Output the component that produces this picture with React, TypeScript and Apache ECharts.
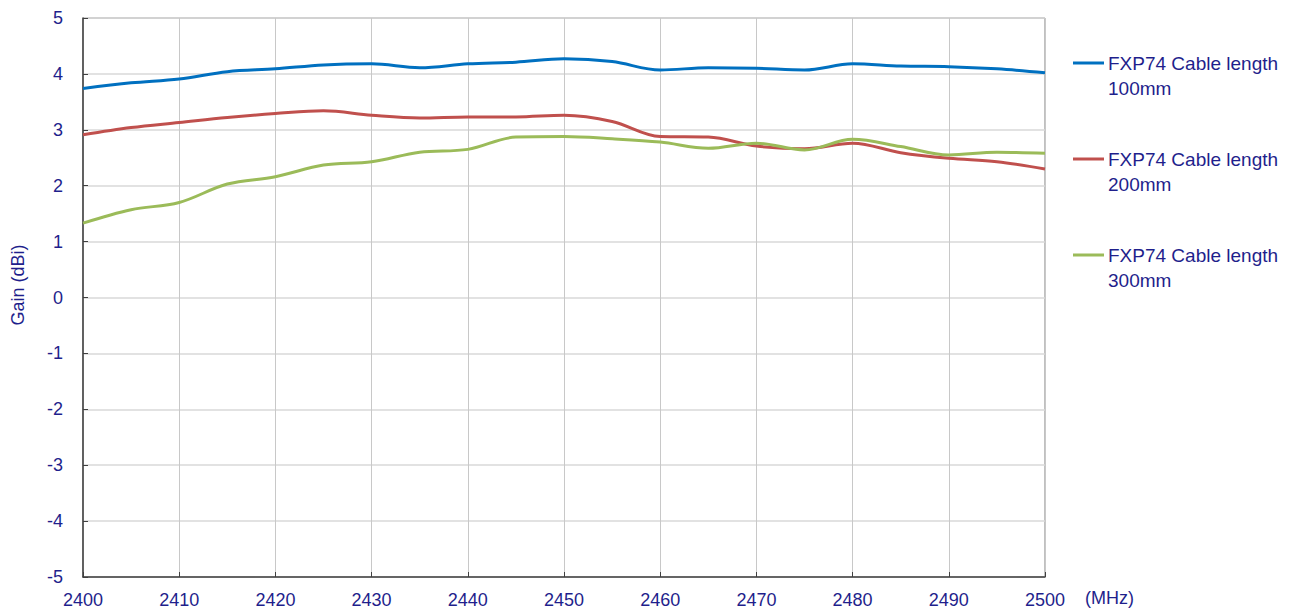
import React, { useEffect, useRef } from "react";
import * as echarts from "echarts";

const freqs = [2400, 2405, 2410, 2415, 2420, 2425, 2430, 2435, 2440, 2445, 2450, 2455, 2460, 2465, 2470, 2475, 2480, 2485, 2490, 2495, 2500];
const gain100 = [3.74, 3.84, 3.91, 4.04, 4.09, 4.16, 4.18, 4.11, 4.18, 4.21, 4.27, 4.22, 4.07, 4.11, 4.10, 4.07, 4.18, 4.14, 4.13, 4.09, 4.02];
const gain200 = [2.91, 3.04, 3.13, 3.22, 3.29, 3.34, 3.26, 3.21, 3.23, 3.23, 3.26, 3.15, 2.88, 2.87, 2.71, 2.66, 2.76, 2.59, 2.49, 2.43, 2.30];
const gain300 = [1.33, 1.57, 1.70, 2.03, 2.16, 2.37, 2.43, 2.60, 2.65, 2.87, 2.88, 2.84, 2.78, 2.67, 2.76, 2.64, 2.83, 2.70, 2.55, 2.60, 2.58];
const seriesNames = ["FXP74 Cable length\n100mm", "FXP74 Cable length\n200mm", "FXP74 Cable length\n300mm"];
const colors = ["#0070C0", "#C0504D", "#9BBB59"];

const textColor = "#1F1F8C";
const font = "'Liberation Sans', Arial, sans-serif";

export default function App() {
  const ref = useRef<HTMLDivElement>(null);
  useEffect(() => {
    if (!ref.current) return;
    const chart = echarts.init(ref.current, undefined, { renderer: "svg" });
    const datasets = [gain100, gain200, gain300];
    const legendYs = [63, 159, 255];
    const graphic: any[] = [];
    seriesNames.forEach((n, i) => {
      graphic.push({
        type: "line",
        shape: { x1: 1073, y1: legendYs[i], x2: 1104, y2: legendYs[i] },
        style: { stroke: colors[i], lineWidth: 3 },
      });
      graphic.push({
        type: "text",
        x: 1108,
        y: legendYs[i] - 12.5,
        style: { text: n, fill: textColor, font: `19px ${font}`, lineHeight: 25 },
      });
    });
    graphic.push({
      type: "text",
      x: 1085,
      y: 598,
      style: { text: "(MHz)", fill: textColor, font: `18px ${font}`, verticalAlign: "middle" },
    });
    graphic.push({
      type: "text",
      x: 18,
      y: 285,
      rotation: Math.PI / 2,
      style: { text: "Gain (dBi)", fill: textColor, font: `18px ${font}`, align: "center", verticalAlign: "middle" },
    });
    chart.setOption({
      animation: false,
      grid: { left: 83, right: 258, top: 18, bottom: 35, show: true, borderColor: "#808080", borderWidth: 1, outerBoundsMode: "none", containLabel: false },
      xAxis: {
        type: "value",
        min: 2400,
        max: 2500,
        interval: 10,
        axisLine: { onZero: false, lineStyle: { color: "#404040", width: 1.5 } },
        axisTick: { inside: true, length: 5, lineStyle: { color: "#404040" } },
        axisLabel: { color: textColor, fontSize: 18, fontFamily: font, margin: 14, formatter: (v: number) => String(v) },
        splitLine: { show: true, lineStyle: { color: "#C8C8C8" } },
      },
      yAxis: {
        type: "value",
        min: -5,
        max: 5,
        interval: 1,
        axisLine: { show: true, onZero: false, lineStyle: { color: "#404040", width: 1.5 } },
        axisTick: { show: true, inside: true, length: 5, lineStyle: { color: "#404040" } },
        axisLabel: { color: textColor, fontSize: 18, fontFamily: font, margin: 20 },
        splitLine: { show: true, lineStyle: { color: "#D9D9D9", width: 1.5 } },
      },
      series: datasets.map((d, i) => ({
        type: "line",
        name: seriesNames[i],
        data: freqs.map((f, j) => [f, d[j]]),
        smooth: 0.35,
        showSymbol: false,
        lineStyle: { color: colors[i], width: 3 },
        itemStyle: { color: colors[i] },
      })),
      graphic,
    });
    return () => chart.dispose();
  }, []);
  return <div ref={ref} style={{ position: "fixed", left: 0, top: 0, width: 1303, height: 612, background: "#fff" }} />;
}
